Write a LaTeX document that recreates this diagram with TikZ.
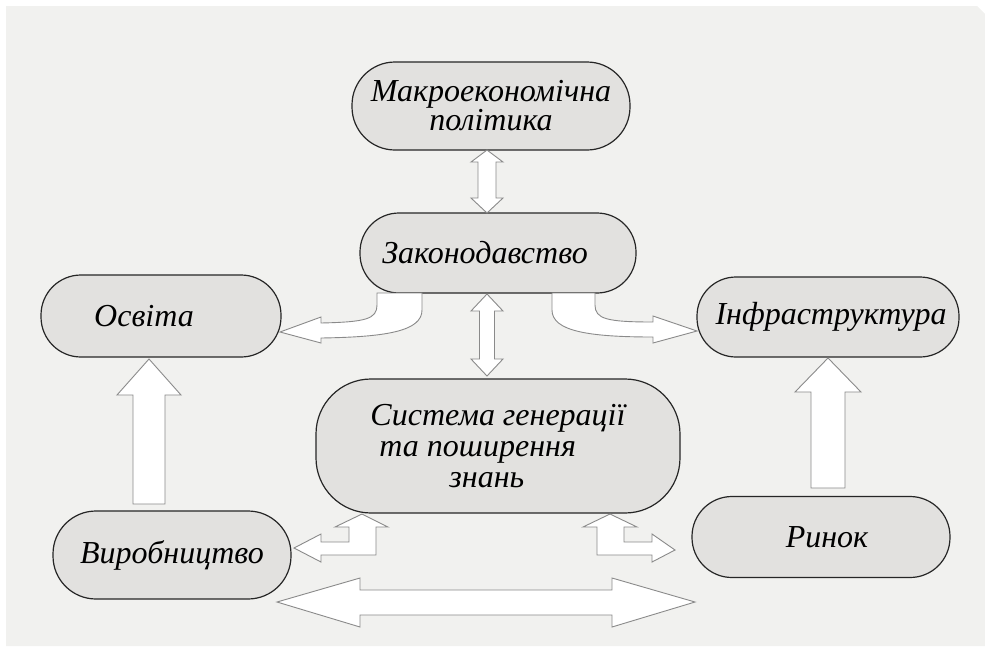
\documentclass[tikz,border=0pt]{standalone}
\usepackage{fontspec}
\setmainfont{Liberation Serif}
\definecolor{bgc}{HTML}{F1F1EF}
\definecolor{boxc}{HTML}{E2E1DF}
\definecolor{arrc}{HTML}{8A8A8A}
\tikzset{
  box/.style={draw=black!85, line width=1.2pt, fill=boxc, inner sep=0pt,
    font=\fontsize{32pt}{29pt}\selectfont\itshape, align=center},
  blockarrow/.style={draw=arrc, line width=0.9pt, fill=white, line join=miter}
}
\begin{document}
\begin{tikzpicture}[x=1pt,y=-1pt]
\useasboundingbox (0,0) rectangle (985,646);
\fill[bgc] (6,6) -- (977,6) -- (985,14) -- (985,646) -- (6,646) -- cycle;

% nodes
\node[box, minimum width=278pt, minimum height=88pt, rounded corners=43pt] (makro) at (491,106) {Макроекономічна\\політика};
\node[box, minimum width=276pt, minimum height=80pt, rounded corners=39pt] (zak) at (498,253) {Законодавство\hspace*{26pt}};
\node[box, minimum width=240pt, minimum height=82pt, rounded corners=40pt] (osv) at (161,316) {Освіта\hspace*{34pt}};
\node[box, minimum width=262pt, minimum height=80pt, rounded corners=39pt] (infra) at (828,317) {\hspace*{6pt}Інфраструктура};
\node[box, minimum width=364pt, minimum height=134pt, rounded corners=55pt, align=left,
  font=\fontsize{32pt}{31pt}\selectfont\itshape] (sys) at (498,446)
  {Система генерації\\\hspace*{9pt}та поширення\\\hspace*{79pt}знань};
\node[box, minimum width=238pt, minimum height=88pt, rounded corners=43pt] (vyr) at (172,555) {Виробництво};
\node[box, minimum width=258pt, minimum height=81pt, rounded corners=40pt] (rynok) at (821,537) {\hspace*{12pt}Ринок};

% vertical double arrow: Makro <-> Zakon
\draw[blockarrow] (487,150) -- (503,162) -- (496,162) -- (496,198) -- (503,198) -- (487,213)
  -- (471,198) -- (478,198) -- (478,162) -- (471,162) -- cycle;
% vertical double arrow: Zakon <-> Systema
\draw[blockarrow] (487,294) -- (503,311) -- (494.5,311) -- (494.5,359) -- (503,359) -- (487,376)
  -- (471,359) -- (479.5,359) -- (479.5,311) -- (471,311) -- cycle;

% curved arrow Zakon -> Osvita
\draw[blockarrow] (321,323) .. controls (366,322) and (377,319) .. (377,305) -- (377,293)
  -- (422,293) -- (422,310) .. controls (422,331) and (387,337) .. (321,338)
  -- (321,343) -- (280,332) -- (321,317) -- cycle;
% curved arrow Zakon -> Infra
\draw[blockarrow] (653,322) .. controls (607,322) and (595,319) .. (595,305) -- (595,293)
  -- (552,293) -- (552,310) .. controls (552,331) and (588,337) .. (653,337)
  -- (653,343) -- (697,331) -- (653,316) -- cycle;

% Vyrobnytstvo -> Osvita
\draw[blockarrow] (149,359) -- (181,395) -- (165,395) -- (165,504) -- (133,504) -- (133,395)
  -- (117,395) -- cycle;
% Rynok -> Infra
\draw[blockarrow] (828,358) -- (861,392) -- (845,392) -- (845,488) -- (811,488) -- (811,392)
  -- (795,392) -- cycle;

% L arrow left (Systema / Vyrobnytstvo)
\draw[blockarrow] (362,514) -- (388,527) -- (376,527) -- (376,555) -- (321,555) -- (321,562)
  -- (294,548) -- (321,534) -- (321,542) -- (349,542) -- (349,527) -- (335,527) -- cycle;
% L arrow right (Systema / Rynok)
\draw[blockarrow] (610,514) -- (637,527) -- (624,527) -- (624,542) -- (652,542) -- (652,534)
  -- (675,550) -- (652,562) -- (652,555) -- (597,555) -- (597,527) -- (583,527) -- cycle;

% big horizontal double arrow
\draw[blockarrow] (277,602) -- (360,578) -- (360,590) -- (612,590) -- (612,578) -- (695,602)
  -- (612,627) -- (612,615) -- (360,615) -- (360,627) -- cycle;
\end{tikzpicture}
\end{document}
